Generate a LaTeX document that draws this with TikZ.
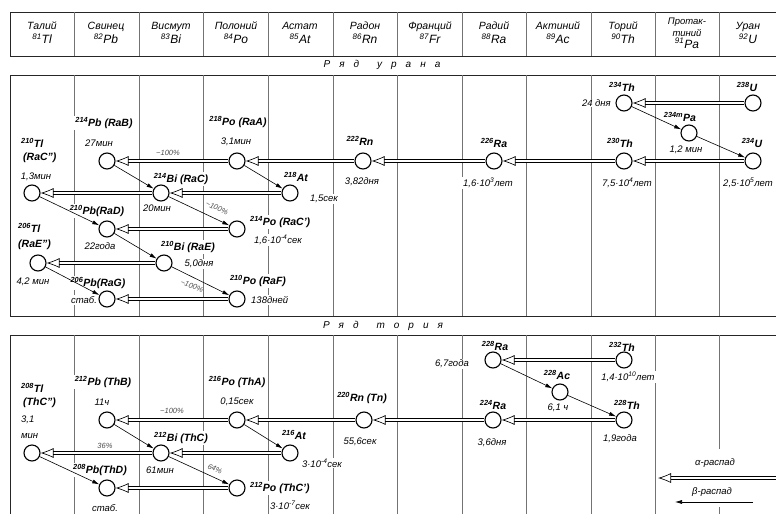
\documentclass[tikz,border=0pt]{standalone}
\usepackage{fontspec}
\setmainfont{Liberation Sans}
\usetikzlibrary{arrows.meta,positioning}
\tikzset{
  boxline/.style={line width=0.8pt, black!85},
  colline/.style={line width=0.6pt, black!55},
  nucl/.style={circle, draw, line width=1.1pt, fill=white, minimum size=16pt, inner sep=0pt},
  isolab/.style={font=\bfseries\itshape\fontsize{10.5}{12}\selectfont, inner sep=1pt, fill=white},
  halflab/.style={font=\itshape\fontsize{9.5}{11}\selectfont, inner sep=1pt, fill=white},
  pctlab/.style={font=\itshape\fontsize{7.5}{8}\selectfont, inner sep=0.5pt, text=black!70},
  hdr/.style={font=\itshape\fontsize{10.5}{14}\selectfont, align=center, inner sep=0pt},
  rowlab/.style={font=\itshape\fontsize{10}{12}\selectfont, inner sep=0pt},
  adecay/.style={double, double distance=2pt, line width=0.65pt, -{Latex[open,length=13pt,width=10pt]}},
  bdecay/.style={line width=0.6pt, -{Latex[length=7pt,width=4pt]}},
}
\newcommand{\iso}[2]{\textsuperscript{#1}#2}

\begin{document}
\begin{tikzpicture}[x=1pt,y=-1pt]
  \useasboundingbox (0,0) rectangle (776,514);
  \draw[boxline] (776,12) -- (10,12) -- (10,56) -- (776,56);
  \draw[boxline] (776,75) -- (10,75) -- (10,316) -- (776,316);
  \draw[boxline] (776,335) -- (10,335) -- (10,514);
  \foreach \x in {74,139,203,268,333,397,462,526,591,655,719} {
    \draw[colline] (\x,12) -- (\x,56);
    \draw[colline] (\x,75) -- (\x,316);
    \draw[colline] (\x,335) -- (\x,514);
  }

  \foreach \x/\el/\z/\s in {42/Талий/81/Tl, 106/Свинец/82/Pb, 171/Висмут/83/Bi,
      236/Полоний/84/Po, 300/Астат/85/At, 365/Радон/86/Rn, 430/Франций/87/Fr,
      494/Радий/88/Ra, 558/Актиний/89/Ac, 623/Торий/90/Th, 748/Уран/92/U}
    \node[hdr] (h\s) at (\x,33) {\el\\{\fontsize{12}{13}\selectfont\iso{\z}{\s}}};
  \node[hdr, font=\itshape\fontsize{9.5}{12}\selectfont] (hPa) at (687,33)
    {Протак-\\тиний\\{\fontsize{12}{12}\selectfont\iso{91}{Pa}}};

  \node[rowlab] (urow) at (382,65)
    {Р\hspace{9pt}я\hspace{9pt}д\hspace{18pt}у\hspace{9pt}р\hspace{9pt}а\hspace{9pt}н\hspace{9pt}а};
  \node[rowlab] (throw) at (383,326)
    {Р\hspace{9pt}я\hspace{9pt}д\hspace{18pt}т\hspace{9pt}о\hspace{9pt}р\hspace{9pt}и\hspace{9pt}я};

  % uranium series labels
  \node[isolab] (lu238) at (747,87) {\iso{238}{U}};
  \node[isolab] (lth234) at (622,87) {\iso{234}{Th}};
  \node[halflab, anchor=east] (tth234) at (612,103) {24 дня};
  \node[isolab] (lpa234) at (680,117) {\iso{234m}{Pa}};
  \node[halflab] (tpa234) at (686,150) {1,2 мин};
  \node[isolab] (lu234) at (752,143) {\iso{234}{U}};
  \node[halflab] (tu234) at (748,183) {2,5·10\textsuperscript{5}лет};
  \node[isolab] (lth230) at (620,143) {\iso{230}{Th}};
  \node[halflab] (tth230) at (627,183) {7,5·10\textsuperscript{4}лет};
  \node[isolab] (lra226) at (494,143) {\iso{226}{Ra}};
  \node[halflab] (tra226) at (488,183) {1,6·10\textsuperscript{3}лет};
  \node[isolab] (lrn222) at (360,141) {\iso{222}{Rn}};
  \node[halflab] (trn222) at (362,182) {3,82дня};
  \node[isolab] (lpo218) at (238,122) {\iso{218}{Po} (RaA)};
  \node[halflab] (tpo218) at (236,142) {3,1мин};
  \node[isolab] (lat218) at (296,177) {\iso{218}{At}};
  \node[halflab] (tat218) at (324,199) {1,5сек};
  \node[isolab] (lpb214) at (104,123) {\iso{214}{Pb} (RaB)};
  \node[halflab] (tpb214) at (99,143) {27мин};
  \node[isolab, anchor=west] (ltl210) at (20,143) {\iso{210}{Tl}};
  \node[isolab, anchor=west] (ctl210) at (22,158) {(RaC'')};
  \node[halflab] (ttl210) at (36,177) {1,3мин};
  \node[isolab] (lbi214) at (181,179) {\iso{214}{Bi} (RaC)};
  \node[halflab] (tbi214) at (157,208) {20мин};
  \node[isolab, anchor=west] (lpo214) at (249,222) {\iso{214}{Po} (RaC')};
  \node[halflab] (tpo214) at (278,240) {1,6·10\textsuperscript{-4}сек};
  \node[isolab] (lpb210) at (97,211) {\iso{210}{Pb}(RaD)};
  \node[halflab] (tpb210) at (100,246) {22года};
  \node[isolab, anchor=west] (ltl206) at (17,228) {\iso{206}{Tl}};
  \node[isolab, anchor=west] (ctl206) at (17,245) {(RaE'')};
  \node[halflab] (ttl206) at (33,282) {4,2 мин};
  \node[isolab] (lbi210) at (188,247) {\iso{210}{Bi} (RaE)};
  \node[halflab] (tbi210) at (199,264) {5,0дня};
  \node[isolab] (lpo210) at (258,281) {\iso{210}{Po} (RaF)};
  \node[halflab, anchor=west] (tpo210) at (250,300) {138дней};
  \node[isolab] (lpb206) at (98,283) {\iso{206}{Pb}(RaG)};
  \node[halflab] (tpb206) at (84,300) {стаб.};

  % thorium series labels
  \node[isolab] (lth232) at (622,347) {\iso{232}{Th}};
  \node[halflab] (tth232) at (628,377) {1,4·10\textsuperscript{10}лет};
  \node[isolab] (lra228) at (495,346) {\iso{228}{Ra}};
  \node[halflab] (tra228) at (452,364) {6,7года};
  \node[isolab] (lac228) at (557,375) {\iso{228}{Ac}};
  \node[halflab] (tac228) at (558,408) {6,1 ч};
  \node[isolab] (lth228) at (627,405) {\iso{228}{Th}};
  \node[halflab] (tth228) at (620,439) {1,9года};
  \node[isolab] (lra224) at (493,405) {\iso{224}{Ra}};
  \node[halflab] (tra224) at (492,443) {3,6дня};
  \node[isolab] (lrn220) at (362,398) {\iso{220}{Rn} (Tn)};
  \node[halflab] (trn220) at (360,442) {55,6сек};
  \node[isolab] (lpo216) at (237,382) {\iso{216}{Po} (ThA)};
  \node[halflab] (tpo216) at (237,402) {0,15сек};
  \node[isolab] (lpb212) at (103,382) {\iso{212}{Pb} (ThB)};
  \node[halflab] (tpb212) at (102,402) {11ч};
  \node[isolab, anchor=west] (ltl208) at (20,388) {\iso{208}{Tl}};
  \node[isolab, anchor=west] (ctl208) at (22,403) {(ThC'')};
  \node[halflab, anchor=west] (ttl208) at (20,420) {3,1};
  \node[halflab, anchor=west] (mtl208) at (20,436) {мин};
  \node[isolab] (lbi212) at (181,438) {\iso{212}{Bi} (ThC)};
  \node[halflab] (tbi212) at (160,470) {61мин};
  \node[isolab] (lat216) at (294,435) {\iso{216}{At}};
  \node[halflab] (tat216) at (322,463) {3·10\textsuperscript{-4}сек};
  \node[isolab] (lpb208) at (100,470) {\iso{208}{Pb}(ThD)};
  \node[halflab] (tpb208) at (105,508) {стаб.};
  \node[isolab, anchor=west] (lpo212) at (249,488) {\iso{212}{Po} (ThC')};
  \node[halflab] (tpo212) at (290,505) {3·10\textsuperscript{-7}сек};

  % nuclides
  \node[nucl] (u238) at (753,103) {};
  \node[nucl] (th234) at (624,103) {};
  \node[nucl] (pa234) at (689,133) {};
  \node[nucl] (u234) at (753,161) {};
  \node[nucl] (th230) at (624,161) {};
  \node[nucl] (ra226) at (494,161) {};
  \node[nucl] (rn222) at (363,161) {};
  \node[nucl] (po218) at (237,161) {};
  \node[nucl] (at218) at (290,193) {};
  \node[nucl] (pb214) at (107,161) {};
  \node[nucl] (tl210) at (32,193) {};
  \node[nucl] (bi214) at (161,193) {};
  \node[nucl] (po214) at (237,229) {};
  \node[nucl] (pb210) at (107,229) {};
  \node[nucl] (tl206) at (38,263) {};
  \node[nucl] (bi210) at (164,263) {};
  \node[nucl] (po210) at (237,299) {};
  \node[nucl] (pb206) at (107,299) {};

  \node[nucl] (th232) at (624,360) {};
  \node[nucl] (ra228) at (493,360) {};
  \node[nucl] (ac228) at (560,392) {};
  \node[nucl] (th228) at (624,420) {};
  \node[nucl] (ra224) at (493,420) {};
  \node[nucl] (rn220) at (364,420) {};
  \node[nucl] (po216) at (237,420) {};
  \node[nucl] (pb212) at (107,420) {};
  \node[nucl] (tl208) at (32,453) {};
  \node[nucl] (bi212) at (161,453) {};
  \node[nucl] (at216) at (290,453) {};
  \node[nucl] (pb208) at (107,488) {};
  \node[nucl] (po212) at (237,488) {};

  % decays
  \draw[adecay] (u238) -- (th234);
  \draw[bdecay] (th234) -- (pa234);
  \draw[bdecay] (pa234) -- (u234);
  \draw[adecay] (u234) -- (th230);
  \draw[adecay] (th230) -- (ra226);
  \draw[adecay] (ra226) -- (rn222);
  \draw[adecay] (rn222) -- (po218);
  \draw[adecay] (po218) -- (pb214);
  \draw[bdecay] (po218) -- (at218);
  \draw[adecay] (at218) -- (bi214);
  \draw[bdecay] (pb214) -- (bi214);
  \draw[adecay] (bi214) -- (tl210);
  \draw[bdecay] (bi214) -- (po214);
  \draw[bdecay] (tl210) -- (pb210);
  \draw[adecay] (po214) -- (pb210);
  \draw[bdecay] (pb210) -- (bi210);
  \draw[adecay] (bi210) -- (tl206);
  \draw[bdecay] (bi210) -- (po210);
  \draw[bdecay] (tl206) -- (pb206);
  \draw[adecay] (po210) -- (pb206);

  \draw[adecay] (th232) -- (ra228);
  \draw[bdecay] (ra228) -- (ac228);
  \draw[bdecay] (ac228) -- (th228);
  \draw[adecay] (th228) -- (ra224);
  \draw[adecay] (ra224) -- (rn220);
  \draw[adecay] (rn220) -- (po216);
  \draw[adecay] (po216) -- (pb212);
  \draw[bdecay] (po216) -- (at216);
  \draw[adecay] (at216) -- (bi212);
  \draw[bdecay] (pb212) -- (bi212);
  \draw[adecay] (bi212) -- (tl208);
  \draw[bdecay] (bi212) -- (po212);
  \draw[bdecay] (tl208) -- (pb208);
  \draw[adecay] (po212) -- (pb208);

  \node[pctlab] (p1) at (168,153) {\textasciitilde100\%};
  \node[pctlab, rotate=-25] (p2) at (217,208) {\textasciitilde100\%};
  \node[pctlab, rotate=-20] (p3) at (192,286) {\textasciitilde100\%};
  \node[pctlab] (p4) at (172,411) {\textasciitilde100\%};
  \node[pctlab] (p5) at (105,446) {36\%};
  \node[pctlab, rotate=-25] (p6) at (215,469) {64\%};

  % legend
  \fill[white] (664,449) rectangle (776,507);
  \coordinate (aS) at (776,478);
  \coordinate (aE) at (658,478);
  \draw[adecay] (aS) -- (aE);
  \node[halflab] (alab) at (715,463) {α-распад};
  \coordinate (bS) at (753,502);
  \coordinate (bE) at (675,502);
  \draw[bdecay] (bS) -- (bE);
  \node[halflab] (blab) at (712,492) {β-распад};
\end{tikzpicture}
\end{document}
